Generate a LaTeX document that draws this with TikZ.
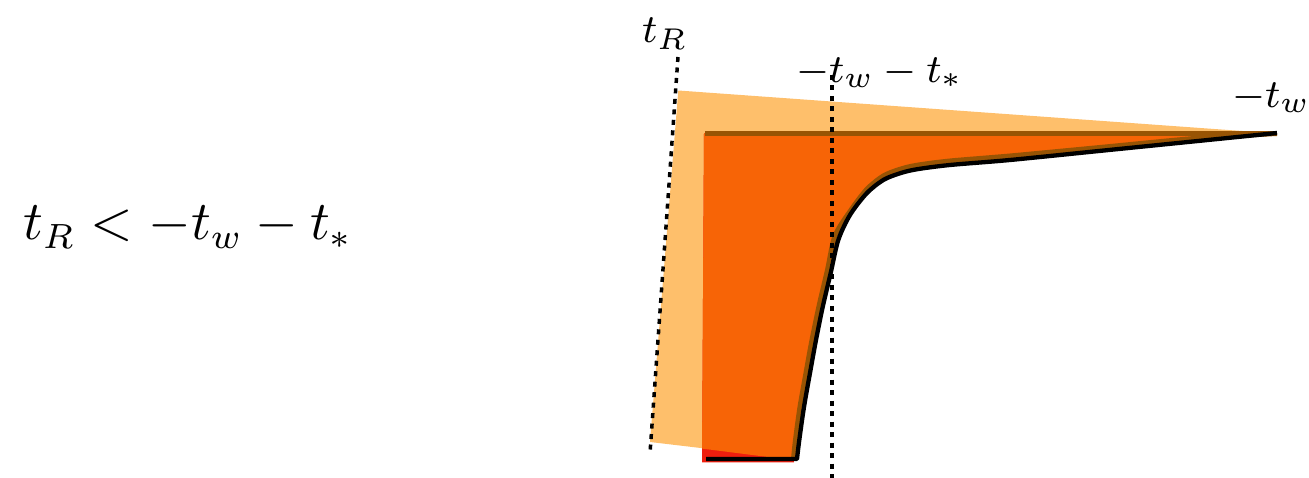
\documentclass[tikz,border=0pt]{standalone}
\usetikzlibrary{positioning}
\definecolor{lightorange}{RGB}{254,191,107}
\definecolor{deeporange}{RGB}{247,100,6}
\definecolor{edgebrown}{RGB}{152,84,4}
\definecolor{basered}{RGB}{238,30,14}
\tikzset{
  guide/.style={black, line width=0.7pt, dash pattern=on 1pt off 1.1pt},
  edgeline/.style={edgebrown, line width=1pt},
  fitline/.style={black, line width=0.86pt, line join=round},
  lbl/.style={anchor=base west, inner sep=0pt, font=\fontsize{8.5}{10}\selectfont}
}
\begin{document}
\begin{tikzpicture}[x=0.2pt, y=-0.2pt]
        \useasboundingbox (0,0) rectangle (1309,478);
        % tilted light region
        \fill[lightorange] (678.3,90.5) -- plot[smooth] coordinates {(1277,133.5) (1200,138) (1100,147.5) (1010,156) (950,161) (916.7,165.3) (900,169.3) (883.3,176) (866.7,189.5) (850,211.5) (835,236) (827.5,270) (819.5,304) (812,340) (806,373) (800,407) (795.5,440) (793.5,459)} -- (650,442) -- cycle;
        % region under the curve
        \fill[basered] (704,133.5) -- plot[smooth] coordinates {(1277,133.5) (1200,138) (1100,147.5) (1010,156) (950,161) (916.7,165.3) (900,169.3) (883.3,176) (866.7,189.5) (850,211.5) (835,236) (827.5,270) (819.5,304) (812,340) (806,373) (800,407) (795.5,440) (793.5,459)} -- (794,462.5) -- (702,462.5) -- cycle;
        \begin{scope}
            \clip (678.3,90.5) -- (1290,134) -- (820,463.6) -- (650,442) -- cycle;
            \fill[deeporange] (704,133.5) -- plot[smooth] coordinates {(1277,133.5) (1200,138) (1100,147.5) (1010,156) (950,161) (916.7,165.3) (900,169.3) (883.3,176) (866.7,189.5) (850,211.5) (835,236) (827.5,270) (819.5,304) (812,340) (806,373) (800,407) (795.5,440) (793.5,459)} -- (794,462.5) -- (702,462.5) -- cycle;
        \end{scope}
        \draw[edgeline] (705,133.5) -- (1277,133.5);
        \draw[edgeline] plot[smooth] coordinates {(1277,133.5) (1200,138) (1100,147.5) (1010,156) (950,161) (916.7,165.3) (900,169.3) (883.3,176) (866.7,189.5) (850,211.5) (835,236) (827.5,270) (819.5,304) (812,340) (806,373) (800,407) (795.5,440) (793.5,459)};
        % fitted curve
        \draw[fitline] (706,459) -- plot[smooth] coordinates {(797,459) (799.3,440) (804,407) (810,373) (816,340) (822.7,307) (830.7,273) (838.3,240) (850,215) (866.7,193.3) (883.3,180) (900,173.3) (916.7,169.3) (950,165) (1010,160) (1100,150.9) (1200,140.8) (1277,133)};
        % guides and labels
        \node[lbl, font=\fontsize{10.5}{12}\selectfont] (cond) at (22,240) {$t_R<-t_w-t_*$};
        \node[lbl] (tR) at (641,43) {$t_R$};
        \node[lbl] (tws) at (795,83) {$-t_w-t_*$};
        \node[lbl] (tw) at (1231,108) {$-t_w$};
        \coordinate (tRtop) at (678,57);
        \coordinate (tRbot) at (650,453);
        \coordinate (twstop) at (832,75);
        \coordinate (twsbot) at (832,478);
        \draw[guide] (tRtop) -- (tRbot);
        \draw[guide] (twstop) -- (twsbot);
\end{tikzpicture}
\end{document}
